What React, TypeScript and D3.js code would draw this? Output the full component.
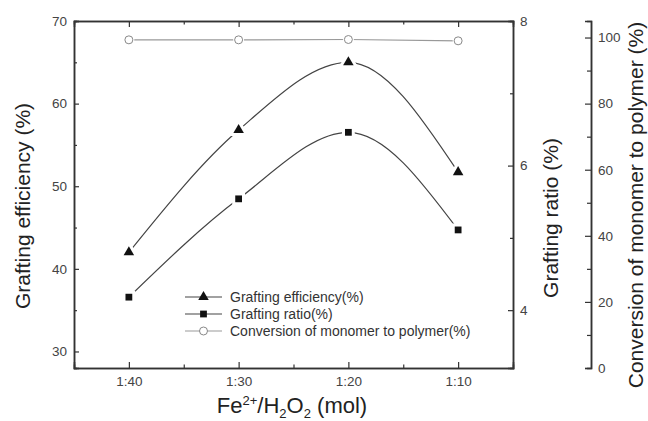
import { useEffect, useRef } from 'react';
import * as d3 from 'd3';

const categories = ['1:40', '1:30', '1:20', '1:10'];
const efficiency = [42.0, 56.8, 65.0, 51.7];
const ratio = [4.18, 5.54, 6.46, 5.11];
const conversion = [99.3, 99.3, 99.4, 99.0];

const effTicks = [30, 40, 50, 60, 70];
const effMinor = [35, 45, 55, 65];
const ratioTicks = [4, 6, 8];
const ratioMinor = [5, 7];
const convTicks = [0, 20, 40, 60, 80, 100];
const convMinor = [10, 30, 50, 70, 90];

const legendLabels = ['Grafting efficiency(%)', 'Grafting ratio(%)', 'Conversion of monomer to polymer(%)'];

const W = 648, H = 421;
const left = 74, right = 513, top = 21, bottom = 368;
const font = 'Arial, "Liberation Sans", Helvetica, sans-serif';

const App = () => {
    const ref = useRef<SVGSVGElement>(null);

    useEffect(() => {
        const svg = d3.select(ref.current);
        svg.selectAll('*').remove();

        const x = d3.scaleLinear().domain([0.5, 4.5]).range([left, right]);
        const yEff = d3.scaleLinear().domain([28, 70]).range([bottom, top]);
        const yRatio = d3.scaleLinear().domain([3.2, 8]).range([bottom, top]);
        const yConv = d3.scaleLinear().domain([0, 105]).range([bottom, top]);

        const styleAxis = (g, size = 13.5) => {
            g.select('.domain').attr('stroke', '#333').attr('stroke-width', 1.5);
            g.selectAll('.tick line').attr('stroke', '#333').attr('stroke-width', 1.2);
            g.selectAll('.tick text').attr('fill', '#444').attr('font-size', size).attr('font-family', font);
        };

        // bottom + top axes
        const xPos = categories.map((_, i) => i + 1);
        svg.append('g')
            .attr('transform', `translate(0,${bottom})`)
            .call(d3.axisBottom(x).tickValues(xPos).tickFormat((d, i) => categories[i]).tickSize(-6).tickPadding(8))
            .call(styleAxis);
        svg.append('g')
            .attr('transform', `translate(0,${bottom})`)
            .call(d3.axisBottom(x).tickValues([1.5, 2.5, 3.5]).tickFormat(() => '').tickSize(-3.5))
            .call(styleAxis);
        svg.append('g')
            .attr('transform', `translate(0,${top})`)
            .call(d3.axisTop(x).tickValues(xPos).tickFormat(() => '').tickSize(-6))
            .call(styleAxis);
        svg.append('g')
            .attr('transform', `translate(0,${top})`)
            .call(d3.axisTop(x).tickValues([1.5, 2.5, 3.5]).tickFormat(() => '').tickSize(-3.5))
            .call(styleAxis);

        // left axis
        svg.append('g')
            .attr('transform', `translate(${left},0)`)
            .call(d3.axisLeft(yEff).tickValues(effTicks).tickSize(-5).tickPadding(7))
            .call(styleAxis);
        svg.append('g')
            .attr('transform', `translate(${left},0)`)
            .call(d3.axisLeft(yEff).tickValues(effMinor).tickFormat(() => '').tickSize(-3))
            .call(styleAxis);

        // right axis (grafting ratio)
        svg.append('g')
            .attr('transform', `translate(${right},0)`)
            .call(d3.axisRight(yRatio).tickValues(ratioTicks).tickFormat(d3.format('d')).tickSize(-5).tickPadding(7))
            .call(styleAxis);
        svg.append('g')
            .attr('transform', `translate(${right},0)`)
            .call(d3.axisRight(yRatio).tickValues(ratioMinor).tickFormat(() => '').tickSize(-3))
            .call(styleAxis);

        // offset axis (conversion)
        const cx = 591;
        svg.append('g')
            .attr('transform', `translate(${cx},0)`)
            .call(d3.axisRight(yConv).tickValues(convTicks).tickSize(-6).tickPadding(7))
            .call(styleAxis);
        svg.append('g')
            .attr('transform', `translate(${cx},0)`)
            .call(d3.axisRight(yConv).tickValues(convMinor).tickFormat(() => '').tickSize(-4))
            .call(styleAxis);

        // series
        const series = [
            { values: efficiency, y: yEff, sym: d3.symbolTriangle, size: 48, fill: '#111', stroke: 'none', line: '#444', curve: d3.curveMonotoneX },
            { values: ratio, y: yRatio, sym: d3.symbolSquare, size: 46, fill: '#111', stroke: 'none', line: '#444', curve: d3.curveMonotoneX },
            { values: conversion, y: yConv, sym: d3.symbolCircle, size: 50, fill: '#fff', stroke: '#888', line: '#999', curve: d3.curveLinear },
        ];

        series.forEach(s => {
            const line = d3.line<number>()
                .x((_, i) => x(i + 1))
                .y(d => s.y(d))
                .curve(s.curve);
            svg.append('path')
                .attr('d', line(s.values))
                .attr('fill', 'none')
                .attr('stroke', s.line)
                .attr('stroke-width', 1.2);

            const sym = d3.symbol().type(s.sym).size(s.size);
            const g = svg.append('g');
            // white halo leaves the small gap around markers
            g.selectAll('path.halo')
                .data(s.values)
                .enter().append('path')
                .attr('class', 'halo')
                .attr('d', sym())
                .attr('transform', (d, i) => `translate(${x(i + 1)},${s.y(d)})`)
                .attr('fill', '#fff')
                .attr('stroke', '#fff')
                .attr('stroke-width', s.stroke === 'none' ? 6 : 3);
            g.selectAll('path.mark')
                .data(s.values)
                .enter().append('path')
                .attr('class', 'mark')
                .attr('d', sym())
                .attr('transform', (d, i) => `translate(${x(i + 1)},${s.y(d)})`)
                .attr('fill', s.fill)
                .attr('stroke', s.stroke)
                .attr('stroke-width', 1);
        });

        // legend
        const lg = svg.append('g').attr('transform', 'translate(185,297)');
        series.forEach((s, i) => {
            const row = lg.append('g').attr('transform', `translate(0,${i * 17})`);
            row.append('line')
                .attr('x1', 0).attr('x2', 37).attr('y1', 0).attr('y2', 0)
                .attr('stroke', s.line).attr('stroke-width', 1.2);
            row.append('path')
                .attr('d', d3.symbol().type(s.sym).size(s.size)())
                .attr('transform', 'translate(18.5,0)')
                .attr('fill', s.fill)
                .attr('stroke', s.stroke);
            row.append('text')
                .attr('x', 45).attr('y', 0)
                .attr('dy', '0.35em')
                .attr('font-family', font)
                .attr('font-size', 14)
                .attr('fill', '#333')
                .text(legendLabels[i]);
        });

        // axis titles
        const title = (tx, ty, text) => svg.append('text')
            .attr('transform', `translate(${tx},${ty}) rotate(-90)`)
            .attr('text-anchor', 'middle')
            .attr('font-family', font)
            .attr('font-size', 21)
            .attr('fill', '#222')
            .text(text);
        title(30, 206, 'Grafting efficiency (%)');
        title(558, 218, 'Grafting ratio (%)');
        title(643, 205, 'Conversion of monomer to polymer (%)');

        const xt = svg.append('text')
            .attr('x', 292).attr('y', 413)
            .attr('text-anchor', 'middle')
            .attr('font-family', font)
            .attr('font-size', 22)
            .attr('fill', '#222');
        xt.append('tspan').text('Fe');
        xt.append('tspan').attr('font-size', 13).attr('dy', -8).text('2+');
        xt.append('tspan').attr('dy', 8).text('/H');
        xt.append('tspan').attr('font-size', 13).attr('dy', 5).text('2');
        xt.append('tspan').attr('dy', -5).text('O');
        xt.append('tspan').attr('font-size', 13).attr('dy', 5).text('2');
        xt.append('tspan').attr('dy', -5).text(' (mol)');
    }, []);

    return (
        <svg ref={ref} width={W} height={H}
            style={{ position: 'absolute', left: 0, top: 0, background: '#fff' }} />
    );
};

export default App;
